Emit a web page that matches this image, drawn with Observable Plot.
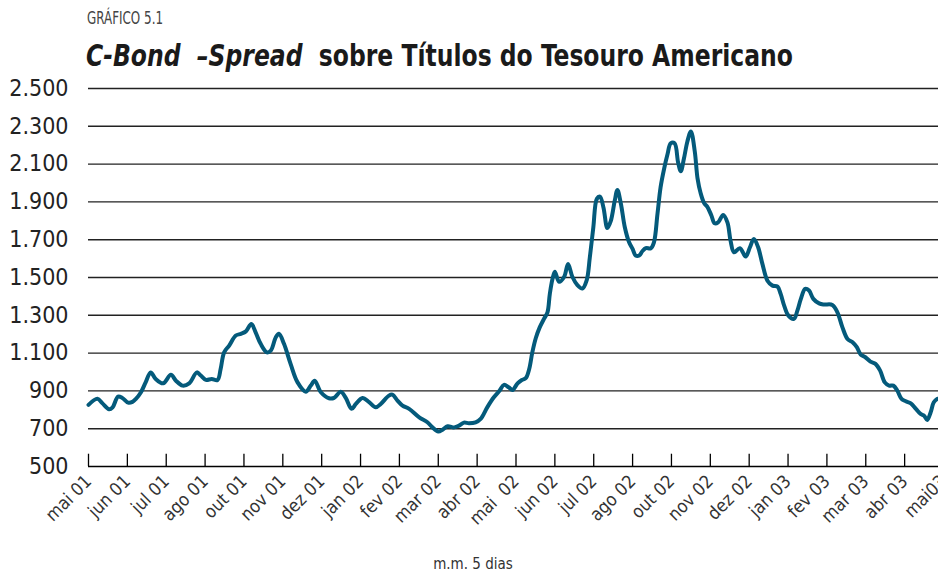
<!DOCTYPE html>
<html>
<head>
<meta charset="utf-8">
<script src="https://cdn.jsdelivr.net/npm/d3@7"></script>
<script src="https://cdn.jsdelivr.net/npm/@observablehq/plot@0.6"></script>
<style>
  html, body { margin: 0; padding: 0; background: #fff; }
  body { width: 938px; height: 574px; position: relative; overflow: hidden;
         font-family: "DejaVu Sans Condensed", "Liberation Sans Narrow", Roboto, sans-serif; }
  #kicker { position: absolute; left: 87px; top: 8px; font-size: 17px; color: #444; transform: scaleX(0.78); transform-origin: 0 0; white-space: nowrap; }
  #title { position: absolute; left: 86px; top: 38px; font-size: 30px; font-weight: bold; color: #1a1a1a; white-space: nowrap; transform: scaleX(0.87); transform-origin: 0 0; }
  #title i { font-style: italic; }
  #chart { position: absolute; left: 0; top: 76px; }
  #caption { position: absolute; left: 0; width: 946px; text-align: center; top: 555px; font-size: 15px; color: #333; }
</style>
</head>
<body>
<div id="kicker">GRÁFICO 5.1</div>
<div id="title"><i>C-Bond&nbsp;&nbsp;–Spread</i>&nbsp;&nbsp;sobre Títulos do Tesouro Americano</div>
<div id="chart"></div>
<div id="caption">m.m. 5 dias</div>
<script>
// Month labels on the category axis (one tick per label)
const monthLabels = ["mai 01","jun 01","jul 01","ago 01","out 01","nov 01","dez 01","jan 02","fev 02","mar 02","abr 02",
  "mai  02","jun 02","jul 02","ago 02","out 02","nov 02","dez 02","jan 03","fev 03","mar 03","abr 03","mai03"];
// Y tick values
const yTicks = [500,700,900,1100,1300,1500,1700,1900,2100,2300,2500];
// Position along the axis (in label intervals) and spread value (basis points)
const pos = [0.00,0.23,0.36,0.53,0.62,0.76,0.87,1.02,1.13,1.22,1.35,1.47,1.60,1.73,1.92,2.12,2.25,2.42,2.59,2.79,2.89,3.02,3.17,3.32,3.40,3.49,3.62,3.79,3.92,4.05,4.19,4.30,4.43,4.59,4.69,4.82,4.90,5.03,5.20,5.38,5.59,5.72,5.82,5.98,6.19,6.32,6.49,6.62,6.77,6.88,7.05,7.22,7.39,7.52,7.73,7.82,7.95,8.08,8.25,8.51,8.72,8.85,9.00,9.11,9.24,9.41,9.53,9.66,9.79,9.96,10.09,10.26,10.43,10.58,10.69,10.81,10.91,11.04,11.15,11.25,11.34,11.42,11.51,11.61,11.72,11.81,11.87,11.94,12.00,12.11,12.24,12.34,12.45,12.58,12.71,12.82,12.90,12.99,13.08,13.16,13.25,13.35,13.44,13.54,13.61,13.70,13.80,13.91,14.00,14.08,14.17,14.25,14.34,14.47,14.55,14.64,14.72,14.81,14.90,14.98,15.08,15.17,15.24,15.32,15.41,15.50,15.60,15.67,15.75,15.84,15.92,16.03,16.11,16.20,16.33,16.44,16.52,16.61,16.76,16.91,17.02,17.12,17.23,17.34,17.47,17.60,17.73,17.81,17.90,18.01,18.15,18.24,18.33,18.44,18.54,18.65,18.80,18.92,19.14,19.27,19.40,19.53,19.66,19.77,19.87,19.99,20.12,20.25,20.37,20.49,20.60,20.71,20.81,20.92,21.03,21.16,21.29,21.41,21.50,21.58,21.67,21.75,21.84];
const spread = [826,858,834,803,813,870,863,838,842,858,893,945,998,963,940,985,954,928,940,998,981,958,963,958,1016,1104,1140,1193,1202,1215,1254,1210,1149,1104,1113,1184,1202,1149,1043,945,896,928,954,893,861,863,896,863,805,831,863,840,813,831,875,880,849,822,805,760,734,707,685,695,713,707,716,732,729,734,752,813,866,902,932,919,905,940,958,967,1016,1104,1180,1236,1281,1316,1413,1493,1530,1477,1504,1571,1504,1460,1442,1486,1607,1766,1916,1928,1871,1762,1800,1906,1963,1889,1766,1686,1651,1616,1616,1639,1655,1655,1686,1836,1977,2074,2153,2210,2210,2110,2062,2128,2220,2273,2167,2026,1947,1894,1875,1827,1787,1792,1831,1792,1695,1633,1655,1611,1660,1704,1660,1572,1483,1457,1452,1413,1351,1298,1281,1325,1387,1440,1431,1387,1363,1357,1355,1316,1236,1175,1157,1131,1092,1078,1055,1043,1007,945,928,928,902,858,845,834,805,778,769,746,787,840,858];

const data = pos.map((t, i) => ({t, v: spread[i]}));
const tickPos = monthLabels.map((_, i) => i);
const fmt = d3.formatLocale({decimal: ",", thousands: ".", grouping: [3], currency: ["", ""]}).format(",");

const chart = Plot.plot({
  width: 938,
  height: 480,
  marginLeft: 88,
  marginRight: -5,
  marginTop: 12,
  marginBottom: 90,
  style: {fontFamily: '"DejaVu Sans Condensed", "Liberation Sans Narrow", Roboto, sans-serif', background: "#fff"},
  x: {domain: [0, 22]},
  y: {domain: [500, 2500]},
  marks: [
    Plot.ruleY(yTicks.filter(v => v > 500), {y: d => d, stroke: "#222", strokeWidth: 1.4}),
    Plot.ruleY([500], {stroke: "#000", strokeWidth: 1.6}),
    Plot.ruleX(tickPos, {x: d => d, y1: 500, y2: 565, stroke: "#000", strokeWidth: 1.3}),
    Plot.line(data, {x: "t", y: "v", stroke: "#045a7b", strokeWidth: 4, curve: "catmull-rom", strokeLinejoin: "round"}),
    Plot.axisY({ticks: yTicks, tickSize: 0, tickPadding: 20, tickFormat: fmt, fontSize: 23, fill: "#222", label: null}),
    Plot.axisX({ticks: tickPos, tickSize: 0, tickPadding: 12, tickRotate: -45, tickFormat: i => monthLabels[i], fontSize: 18, fill: "#333", label: null})
  ]
});
document.getElementById("chart").append(chart);
</script>
</body>
</html>
